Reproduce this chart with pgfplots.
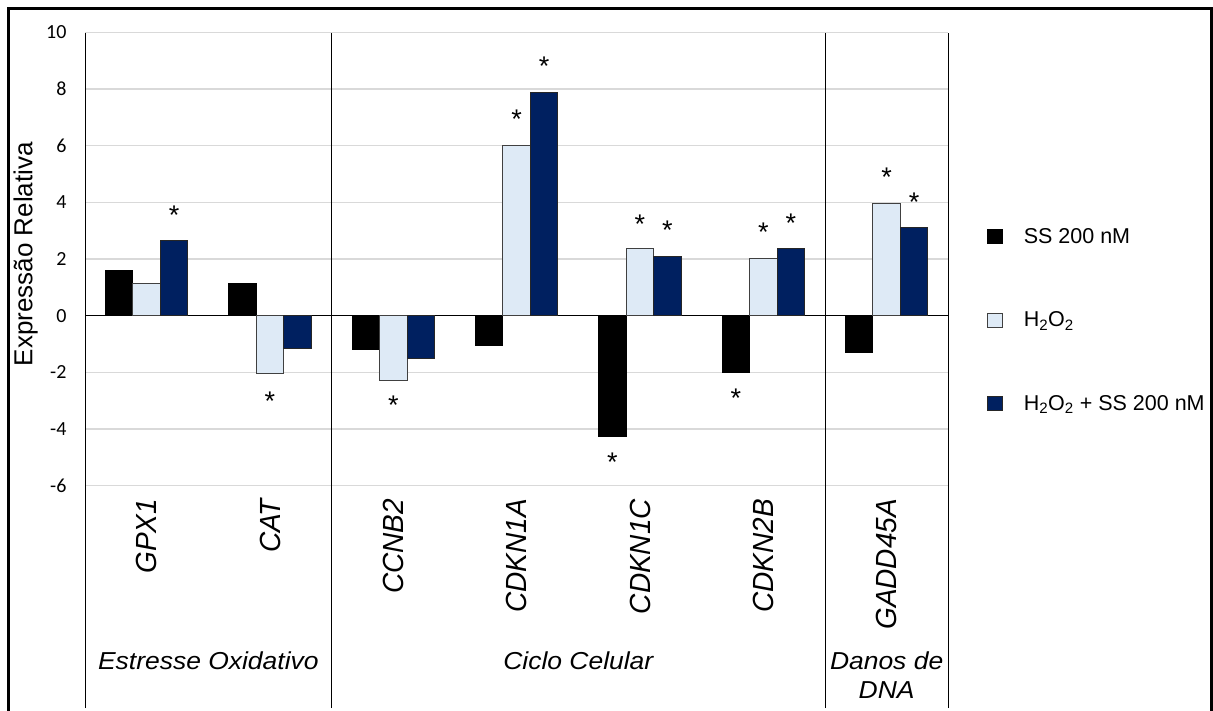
\documentclass[border=0pt]{standalone}
\usepackage{fontspec}
\setmainfont{Liberation Sans}
\newfontfamily\tickfont{Carlito}
\newfontfamily\labfont{Liberation Sans}[FakeStretch=1.08]
\usepackage{graphicx}
\usepackage{pgfplots}
\pgfplotsset{compat=1.18}
\usetikzlibrary{plotmarks}
\definecolor{lightb}{HTML}{DEEAF6}
\definecolor{navy}{HTML}{002060}
\definecolor{gridgray}{HTML}{D9D9D9}
\definecolor{lbord}{HTML}{404040}
\newcommand\rl[1]{\scalebox{1}[1.04]{#1}}
\pgfplotsset{
  sqlegend/.style={legend image code/.code={\draw[##1] (0pt,-7pt) rectangle (15pt,7pt);}},
  starmark/.style={only marks, mark=text, text mark={*}, text mark as node=true,
    text mark style={font=\fontsize{27}{30}\selectfont, inner sep=0pt, anchor=north, yshift=4.5pt},
    forget plot},
}
\begin{document}
\begin{tikzpicture}
\path[use as bounding box] (0pt,0pt) rectangle (1213pt,-710pt);
\begin{axis}[
  at={(85pt,-708pt)}, anchor=south west,
  scale only axis, width=863.3pt, height=675.5pt,
  xmin=-0.5, xmax=6.5, ymin=-13.85, ymax=10,
  clip=false,
  axis line style={draw=none},
  major tick length=0pt,
  xtick={0,...,6},
  xticklabels={\rl{GPX1},\rl{CAT},\rl{CCNB2},\rl{CDKN1A},\rl{CDKN1C},\rl{CDKN2B},\rl{GADD45A}},
  xticklabel style={rotate=90, anchor=east, font=\fontsize{28}{32}\selectfont\itshape},
  xticklabel shift=-212.5pt,
  extra x ticks={-0.5,1.5,5.5,6.5},
  extra x tick labels={},
  extra x tick style={xmajorgrids=true, major grid style={black, line width=0.9pt}},
  ytick={-6,-4,-2,2,4,6,8,10},
  ymajorgrids=true,
  major grid style={gridgray, line width=1.3pt},
  extra y ticks={0},
  extra y tick style={ymajorgrids=true, major grid style={black, line width=1.2pt}},
  yticklabel style={font=\tickfont\fontsize{20}{22}\selectfont, xshift=-15pt},
  /pgf/number format/assume math mode=true,
  ylabel={Expressão Relativa},
  every axis y label/.style={at={(axis description cs:-0.0686,0.672)}, rotate=90, anchor=center, font=\fontsize{26}{30}\selectfont},
  legend style={at={(axis description cs:1.0445,0.7106)}, anchor=north west, draw=none, fill=none,
    inner sep=0pt, row sep=67pt, font=\fontsize{21.5}{25}\selectfont, nodes={inner sep=0pt},
    /tikz/every odd column/.append style={column sep=21pt}},
  legend cell align=left,
]
\addplot[ybar, bar width=0.223, bar shift=-0.223, fill=black, draw=black, line width=0.9pt, sqlegend]
  coordinates {(0,1.61) (1,1.14) (2,-1.18) (3,-1.04) (4,-4.27) (5,-2.01) (6,-1.29)};
\addlegendentry{SS 200 nM}
\addplot[ybar, bar width=0.223, bar shift=0, fill=lightb, draw=lbord, line width=0.9pt, sqlegend]
  coordinates {(0,1.13) (1,-2.05) (2,-2.27) (3,6.01) (4,2.36) (5,2.01) (6,3.97)};
\addlegendentry{H\textsubscript{2}O\textsubscript{2}}
\addplot[ybar, bar width=0.223, bar shift=0.223, fill=navy, draw=black!85, line width=0.9pt, sqlegend]
  coordinates {(0,2.67) (1,-1.17) (2,-1.51) (3,7.89) (4,2.10) (5,2.36) (6,3.12)};
\addlegendentry{H\textsubscript{2}O\textsubscript{2} + SS 200 nM}
% significance marks
\addplot[starmark] coordinates {(3.777,-4.98) (4.777,-2.74)};
\addplot[starmark] coordinates {(1,-2.83) (2,-3.0) (3,7.12) (4,3.42) (5,3.12) (6,5.07)};
\addplot[starmark] coordinates {(0.223,3.71) (3.223,8.98) (4.223,3.2) (5.223,3.46) (6.223,4.18)};
\node[anchor=base, font=\labfont\itshape\fontsize{24.5}{28}\selectfont] at (axis cs:0.5,-12.49) {Estresse Oxidativo};
\node[anchor=base, font=\labfont\itshape\fontsize{24.5}{28}\selectfont] at (axis cs:3.5,-12.49) {Ciclo Celular};
\node[anchor=base, font=\labfont\itshape\fontsize{24.5}{28}\selectfont] at (axis cs:6,-12.49) {Danos de};
\node[anchor=base, font=\labfont\itshape\fontsize{24.5}{28}\selectfont] at (axis cs:6,-13.53) {DNA};
\end{axis}
\draw[line width=2.7pt] (8.8pt,-8.7pt) rectangle (1211.7pt,-720pt);
\end{tikzpicture}
\end{document}
